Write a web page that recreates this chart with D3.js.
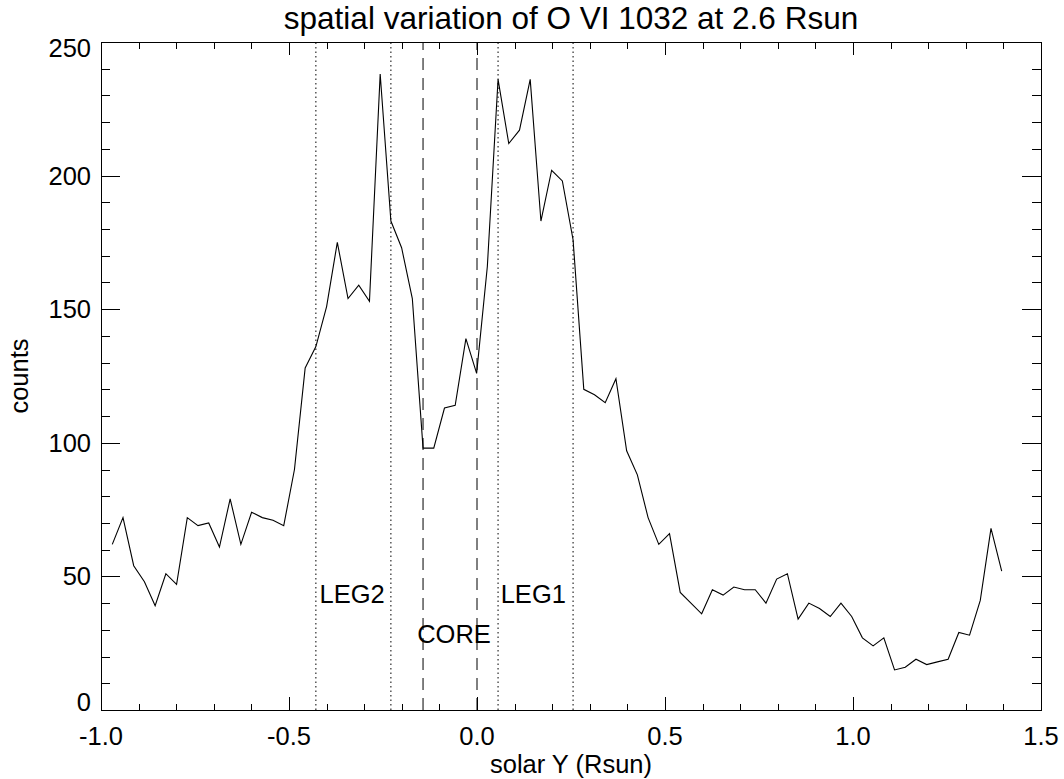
<!DOCTYPE html>
<html>
<head>
<meta charset="utf-8">
<script src="https://cdn.jsdelivr.net/npm/d3@7"></script>
<style>
  html, body { margin: 0; padding: 0; background: #fff; }
  svg { display: block; }
  text { font-family: "Liberation Sans", Arial, Helvetica, sans-serif; fill: #000; }
</style>
</head>
<body>
<svg id="chart" width="1064" height="779"></svg>
<script>
// ---- data ----
const solarY = [
  -0.9700, -0.9415, -0.9130, -0.8845, -0.8560, -0.8275, -0.7990, -0.7705, -0.7420, -0.7135,
  -0.6850, -0.6565, -0.6280, -0.5995, -0.5710, -0.5425, -0.5140, -0.4855, -0.4570, -0.4285,
  -0.4000, -0.3715, -0.3430, -0.3145, -0.2860, -0.2575, -0.2290, -0.2005, -0.1720, -0.1435,
  -0.1150, -0.0865, -0.0580, -0.0295, -0.0010, 0.0275, 0.0560, 0.0845, 0.1130, 0.1415,
  0.1700, 0.1985, 0.2270, 0.2555, 0.2840, 0.3125, 0.3410, 0.3695, 0.3980, 0.4265,
  0.4550, 0.4835, 0.5120, 0.5405, 0.5690, 0.5975, 0.6260, 0.6545, 0.6830, 0.7115,
  0.7400, 0.7685, 0.7970, 0.8255, 0.8540, 0.8825, 0.9110, 0.9395, 0.9680, 0.9965,
  1.0250, 1.0535, 1.0820, 1.1105, 1.1390, 1.1675, 1.1960, 1.2245, 1.2530, 1.2815,
  1.3100, 1.3385, 1.3670, 1.3955
];
const counts = [
  62, 72, 54, 48, 39, 51, 47, 72, 69, 70,
  61, 79, 62, 74, 72, 71, 69, 90, 128, 136,
  151, 175, 154, 159, 153, 238, 183, 173, 154, 98,
  98, 113, 114, 139, 126, 166, 236, 212, 217, 236,
  183, 202, 198, 176, 120, 118, 115, 124, 97, 88,
  72, 62, 66, 44, 40, 36, 45, 43, 46, 45,
  45, 40, 49, 51, 34, 40, 38, 35, 40, 35,
  27, 24, 27, 15, 16, 19, 17, 18, 19, 29,
  28, 41, 68, 52
];
const dottedLines = [-0.4285, -0.2290, 0.0560, 0.2555];
const dashedLines = [-0.1435, 0.0];
const regionLabels = ["LEG2", "CORE", "LEG1"];
const regionLabelX = [-0.419, -0.159, 0.063];
const regionLabelY = [40, 25, 40];
const xTicks = [-1.0, -0.5, 0.0, 0.5, 1.0, 1.5];
const xTickLabels = ["-1.0", "-0.5", "0.0", "0.5", "1.0", "1.5"];
const yTicks = [0, 50, 100, 150, 200, 250];
const yTickLabels = ["0", "50", "100", "150", "200", "250"];
const titleText = "spatial variation of O VI 1032 at 2.6 Rsun";
const xTitle = "solar Y (Rsun)";
const yTitle = "counts";

// ---- layout ----
const L = 101, R = 1041, T = 42, B = 710;
const svg = d3.select("#chart");
const x = d3.scaleLinear().domain([-1.0, 1.5]).range([L, R]);
const y = d3.scaleLinear().domain([0, 250]).range([B, T]);

const fontSize = 25.5;

// box
svg.append("rect").attr("x", L).attr("y", T).attr("width", R - L).attr("height", B - T)
  .attr("fill", "none").attr("stroke", "#000").attr("stroke-width", 1).attr("shape-rendering", "crispEdges");

// ticks via d3 axes (inward)
const xMinor = d3.range(-10, 16).map(d => d / 10).filter(v => !xTicks.some(t => Math.abs(t - v) < 1e-9));
const yMinor = d3.range(0, 251, 10).filter(v => v % 50 !== 0);

function tickAxis(gen, transform, cls) {
  const g = svg.append("g").attr("transform", transform).call(gen);
  g.select(".domain").remove();
  g.selectAll("text").remove();
  g.selectAll("line").attr("stroke", "#000").attr("shape-rendering", "crispEdges");
  return g;
}
// bottom
tickAxis(d3.axisTop(x).tickValues(xTicks).tickSize(13), `translate(0,${B})`);
tickAxis(d3.axisTop(x).tickValues(xMinor).tickSize(6.5), `translate(0,${B})`);
// top
tickAxis(d3.axisBottom(x).tickValues(xTicks).tickSize(13), `translate(0,${T})`);
tickAxis(d3.axisBottom(x).tickValues(xMinor).tickSize(6.5), `translate(0,${T})`);
// left
tickAxis(d3.axisRight(y).tickValues(yTicks).tickSize(19), `translate(${L},0)`);
tickAxis(d3.axisRight(y).tickValues(yMinor).tickSize(9), `translate(${L},0)`);
// right
tickAxis(d3.axisLeft(y).tickValues(yTicks).tickSize(19), `translate(${R},0)`);
tickAxis(d3.axisLeft(y).tickValues(yMinor).tickSize(9), `translate(${R},0)`);

// x tick labels
svg.append("g").selectAll("text").data(xTicks).join("text")
  .attr("x", d => x(d)).attr("y", 745)
  .attr("text-anchor", "middle").attr("font-size", fontSize)
  .text((d, i) => xTickLabels[i]);

// y tick labels (end labels kept inside box like IDL)
svg.append("g").selectAll("text").data(yTicks).join("text")
  .attr("x", L - 10)
  .attr("y", d => {
    let c = y(d);
    c = Math.max(T + 6, Math.min(B - 8, c));
    return c + 9;
  })
  .attr("text-anchor", "end").attr("font-size", fontSize)
  .text((d, i) => yTickLabels[i]);

// vertical lines
svg.append("g").selectAll("line").data(dottedLines).join("line")
  .attr("x1", d => x(d)).attr("x2", d => x(d)).attr("y1", y(0)).attr("y2", y(250))
  .attr("stroke", "#000").attr("stroke-width", 1).attr("stroke-dasharray", "1.5,3");
svg.append("g").selectAll("line").data(dashedLines).join("line")
  .attr("x1", d => x(d)).attr("x2", d => x(d)).attr("y1", y(0)).attr("y2", y(250))
  .attr("stroke", "#000").attr("stroke-width", 1).attr("stroke-dasharray", "12,8");

// data line
const pts = solarY.map((v, i) => [v, counts[i]]);
svg.append("path").datum(pts)
  .attr("d", d3.line().x(d => x(d[0])).y(d => y(d[1])))
  .attr("fill", "none").attr("stroke", "#000").attr("stroke-width", 1.1);

// region labels
svg.append("g").selectAll("text").data(regionLabels).join("text")
  .attr("x", (d, i) => x(regionLabelX[i])).attr("y", (d, i) => y(regionLabelY[i]))
  .attr("font-size", fontSize).text(d => d);

// titles
svg.append("text").attr("x", (L + R) / 2).attr("y", 29).attr("text-anchor", "middle")
  .attr("font-size", 31.5).text(titleText);
svg.append("text").attr("x", (L + R) / 2).attr("y", 773).attr("text-anchor", "middle")
  .attr("font-size", fontSize).text(xTitle);
svg.append("text").attr("transform", `translate(28,${(T + B) / 2}) rotate(-90)`)
  .attr("text-anchor", "middle").attr("font-size", fontSize).text(yTitle);
</script>
</body>
</html>
